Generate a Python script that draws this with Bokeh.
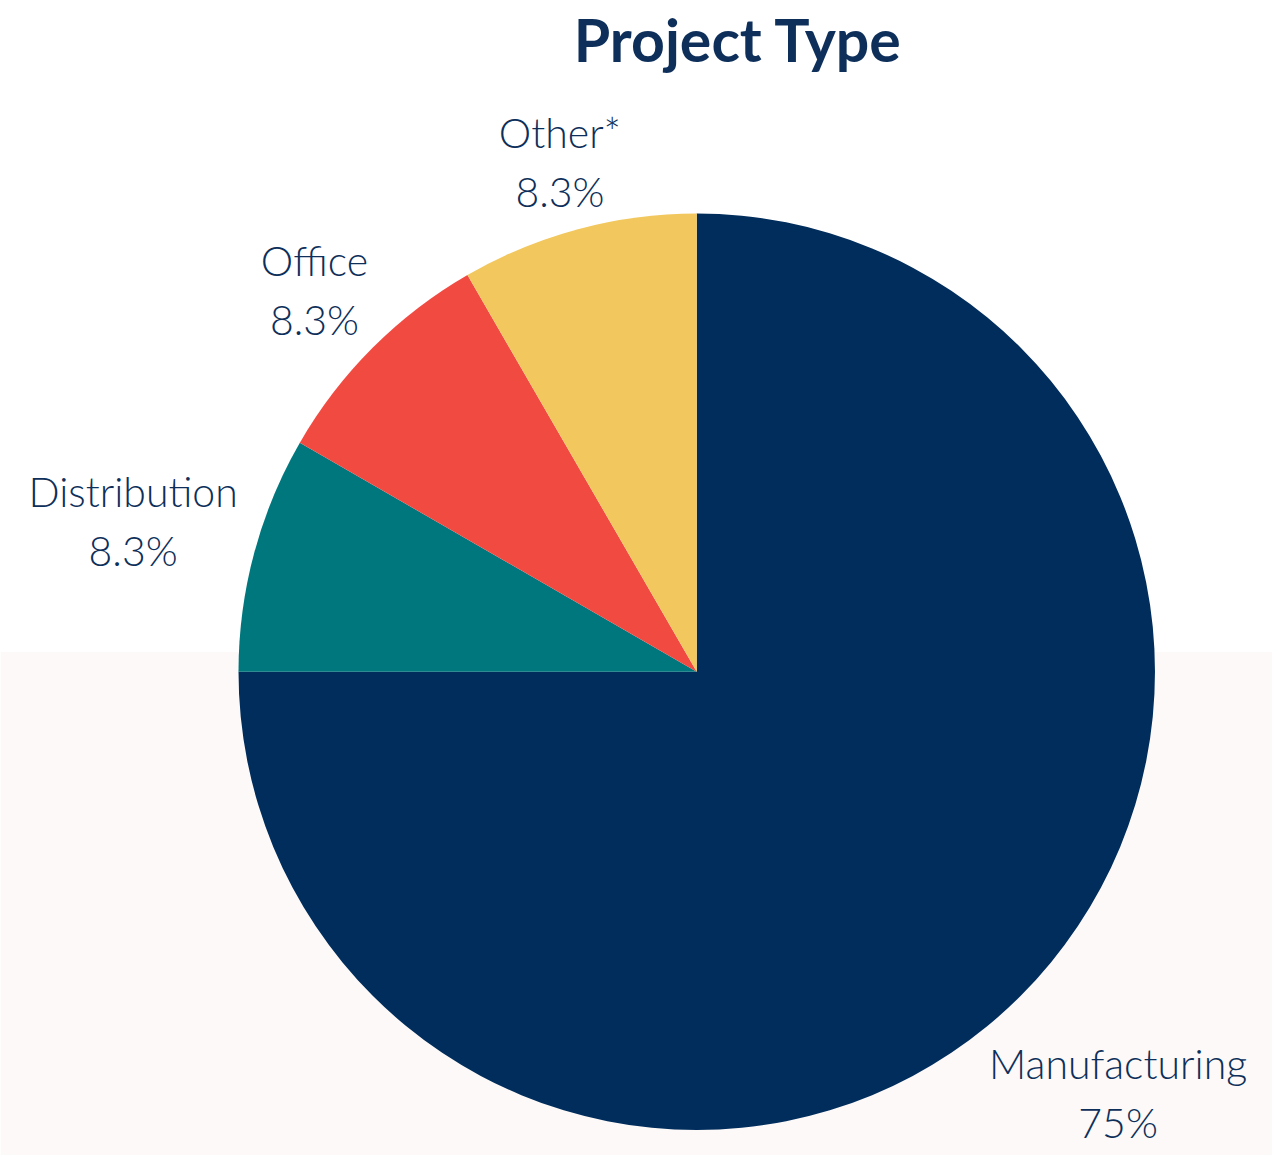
import math
from bokeh.plotting import figure
from bokeh.models import ColumnDataSource, Range1d, BoxAnnotation
from bokeh.core.properties import value
from bokeh.embed import file_html
from bokeh.resources import INLINE

# ---- data ----
categories = ["Manufacturing", "Distribution", "Office", "Other*"]
shares = [75.0, 8.33, 8.33, 8.34]
pct_labels = ["75%", "8.3%", "8.3%", "8.3%"]
colors = ["#002d5c", "#00767d", "#f14a41", "#f1c75e"]
title_text = ["Project Type"]

# ---- layout (data units = reference pixels, y up: y_data = 1170 - y_pixel) ----
W, H = 1272, 1155
TEXT = "#0d2f5a"
LABEL_FONT = "'Lato Light', Lato"
cx, cy, R = 705, 1170 - 680, 464
font_px = 41


def text_em(s):
    """Rough width of a string in em, for placing labels clear of the pie."""
    narrow, wide, xwide = set("ijltfr.*"), set("OD%"), set("Mmw")
    w = 0.0
    for ch in s:
        w += 0.27 if ch in narrow else 0.85 if ch in xwide else 0.7 if ch in wide else 0.55
    return w * 1.04


p = figure(width=W, height=H, output_backend="svg", toolbar_location=None,
           x_range=Range1d(0, 1288), y_range=Range1d(0, 1170),
           min_border=0)
p.axis.visible = False
p.grid.visible = False
p.outline_line_color = None
p.background_fill_color = "#ffffff"
p.border_fill_color = "#ffffff"
p.add_layout(BoxAnnotation(bottom=0, top=1170 - 660, fill_color="#fcf9f8",
                           fill_alpha=1, line_color=None, level="underlay"))

total = sum(shares)
starts, ends, lx, ly, ltext = [], [], [], [], []
cum = 0.0
for cat, s, pl in zip(categories, shares, pct_labels):
    a0 = math.pi / 2 - 2 * math.pi * cum / total
    a1 = math.pi / 2 - 2 * math.pi * (cum + s) / total
    starts.append(a0)
    ends.append(a1)
    mid = (a0 + a1) / 2
    w_half = 0.5 * max(text_em(cat), text_em(pl)) * font_px
    h_half = 48
    d = R + 10 + abs(w_half * math.cos(mid)) + abs(h_half * math.sin(mid))
    lx.append(cx + d * math.cos(mid))
    ly.append(cy + d * math.sin(mid))
    ltext.append(cat + "\n" + pl)
    cum += s

src = ColumnDataSource(dict(start=starts, end=ends, color=colors))
p.wedge(x=cx, y=cy, radius=R, start_angle="start", end_angle="end",
        direction="clock", fill_color="color", line_color=None, source=src)

lsrc = ColumnDataSource(dict(x=lx, y=ly, text=ltext))
p.text(x="x", y="y", text="text", source=lsrc, text_font=value(LABEL_FONT),
       text_font_size=f"{font_px}px", text_color=TEXT, text_align="center",
       text_baseline="middle", text_line_height=1.2)

tsrc = ColumnDataSource(dict(x=[747], y=[1170 - 40], text=title_text))
p.text(x="x", y="y", text="text", source=tsrc, text_font=value("Lato"),
       text_font_size="59px", text_font_style="bold", text_color=TEXT,
       text_align="center", text_baseline="middle")

open("out.html", "w").write(file_html(p, INLINE))
